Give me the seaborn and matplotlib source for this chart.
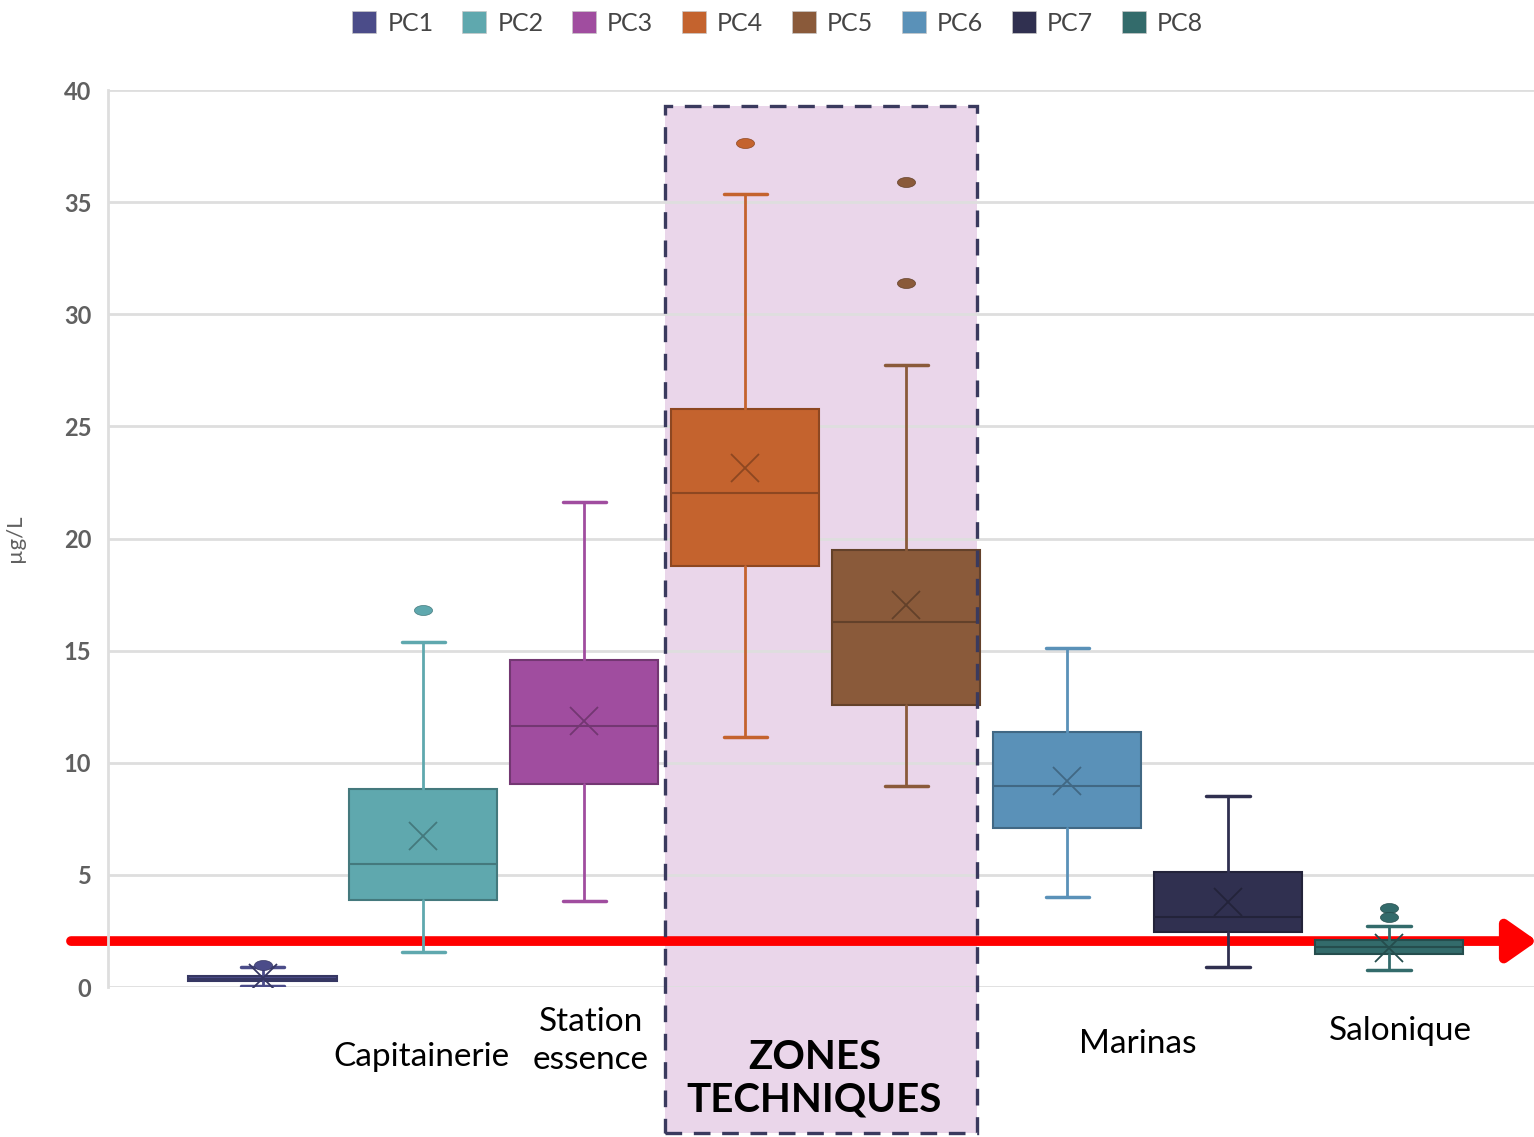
import matplotlib
matplotlib.use("Agg")
import matplotlib.pyplot as plt
import matplotlib.patches as mpatches
from matplotlib.path import Path
import seaborn as sns
import numpy as np

# valeurs (µg/L)
groupes = ["PC1", "PC2", "PC3", "PC4", "PC5", "PC6", "PC7", "PC8"]
q1 = [0.25, 3.88, 9.05, 18.77, 12.57, 7.09, 2.45, 1.47]
mediane = [0.35, 5.48, 11.64, 22.02, 16.27, 8.96, 3.12, 1.78]
q3 = [0.5, 8.83, 14.58, 25.77, 19.48, 11.37, 5.13, 2.10]
moyenne = [0.4, 6.73, 11.86, 23.14, 17.03, 9.18, 3.79, 1.74]
moust_bas = [0.05, 1.56, 3.83, 11.15, 8.96, 4.01, 0.89, 0.76]
moust_haut = [0.88, 15.38, 21.62, 35.35, 27.73, 15.11, 8.52, 2.72]
aberrants = [[0.98], [16.8], [], [37.63], [35.89, 31.39], [], [], [3.52, 3.12]]
couleurs = ["#4b4c89", "#5fa8ae", "#a04d9f", "#c4632e", "#8a5a3a",
            "#5a91b8", "#303050", "#336b6b"]

zones = ["Capitainerie", "Station\nessence", "ZONES\nTECHNIQUES", "Marinas", "Salonique"]
zones_x = [0.99, 2.04, 3.43, 5.44, 7.07]
zones_y = [-3.12, -2.41, -4.1, -2.54, -1.96]
seuil = 2.05

sns.set_theme(style="whitegrid")
plt.rcParams['font.family'] = ['Lato', 'DejaVu Sans']

fig = plt.figure(figsize=(15.34, 11.37), dpi=100)
ax = fig.add_axes([0.0704, 0.1319, 0.9296, 0.7889])

pal = sns.color_palette(couleurs)

# petit marqueur ovale pour les valeurs aberrantes
t = np.linspace(0, 2 * np.pi, 40)
ovale = Path(np.column_stack([np.cos(t), 0.55 * np.sin(t)]))

for i, g in enumerate(groupes):
    c = pal[i]
    dark = tuple(np.array(c) * 0.72)
    stats = [dict(label=g, q1=q1[i], med=mediane[i], q3=q3[i], mean=moyenne[i],
                  whislo=moust_bas[i], whishi=moust_haut[i], fliers=aberrants[i])]
    ax.bxp(stats, positions=[i], widths=0.92, capwidths=0.27, patch_artist=True,
           showmeans=True, manage_ticks=False, zorder=3,
           boxprops=dict(facecolor=c, edgecolor=dark, linewidth=1.5),
           medianprops=dict(color=dark, linewidth=1.5),
           whiskerprops=dict(color=c, linewidth=2),
           capprops=dict(color=c, linewidth=2.5),
           meanprops=dict(marker="x", markersize=20, markeredgecolor=dark,
                          markeredgewidth=1.3),
           flierprops=dict(marker=ovale, markersize=13, markerfacecolor=c,
                           markeredgecolor=dark, markeredgewidth=0.5))

# zone technique (fond rose + cadre pointillé)
ax.add_patch(mpatches.Rectangle((2.5, -6.5), 1.94, 45.8, facecolor="#ead6ea",
                                edgecolor="none", zorder=0.3, clip_on=False))
ax.add_patch(mpatches.Rectangle((2.5, -6.5), 1.94, 45.8, fill=False,
                                edgecolor="#3a3a5e", linewidth=2.4,
                                linestyle=(0, (5, 3.5)), zorder=6, clip_on=False))

# flèche rouge du seuil
ax.annotate("", xy=(7.92, seuil), xytext=(-1.19, seuil), annotation_clip=False,
            arrowprops=dict(arrowstyle="-|>,head_length=1.0,head_width=0.7",
                            mutation_scale=18, color="#ff0000", lw=7,
                            shrinkA=0, shrinkB=0), zorder=2)

ax.set_xlim(-0.96, 7.9)
ax.set_ylim(0, 40)
ax.set_yticks(range(0, 41, 5))
ax.set_xticks([])
ax.set_axisbelow(True)
ax.grid(axis="y", color="#dedede", linewidth=2)
ax.grid(axis="x", visible=False)
ax.set_facecolor("white")
for s in ["top", "right", "bottom"]:
    ax.spines[s].set_visible(False)
ax.spines["left"].set_color("#dedede")
ax.spines["left"].set_linewidth(2)
ax.tick_params(axis="y", length=4, width=1.5, color="#dedede", pad=8,
               labelsize=17, labelcolor="#606060")
for tl in ax.get_yticklabels():
    tl.set_fontweight("bold")
ax.set_ylabel("µg/L", fontsize=16, color="#606060")
ax.yaxis.set_label_coords(-0.058, 0.5)

for txt, x, y in zip(zones, zones_x, zones_y):
    bold = txt.startswith("ZONES")
    ax.text(x, y, txt, ha="center", va="center", fontsize=29 if bold else 24,
            fontweight="bold" if bold else "normal", color="black",
            linespacing=1.3 if not bold else 1.2, clip_on=False)

handles = [mpatches.Patch(facecolor=c, edgecolor="#c8c8c8", linewidth=0.5) for c in pal]
fig.legend(handles, groupes, loc="upper center", bbox_to_anchor=(0.507, 1.01),
           ncol=8, frameon=False, handlelength=0.95, handleheight=0.95,
           handletextpad=0.45, columnspacing=1.15, fontsize=18, labelcolor="#454545")

fig.savefig("out.png", dpi=100)
